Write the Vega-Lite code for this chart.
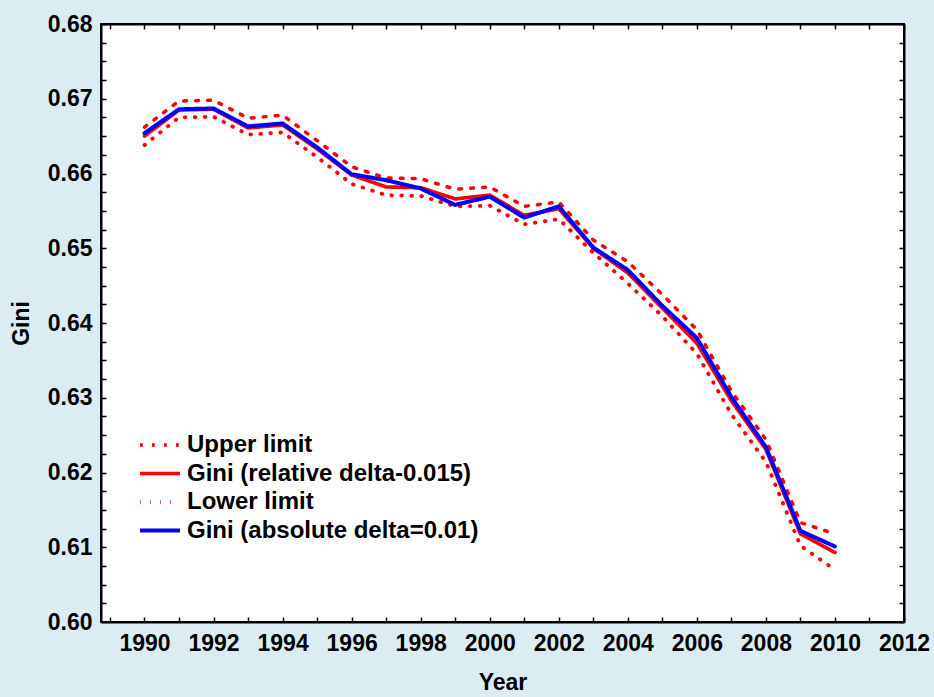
{
  "$schema": "https://vega.github.io/schema/vega-lite/v6.json",
  "width": 803,
  "height": 598,
  "autosize": {"type": "none"},
  "padding": {"left": 101, "top": 24, "right": 30, "bottom": 75},
  "background": "#DBEDF3",
  "config": {
    "view": {"fill": "white", "stroke": "black", "strokeWidth": 2},
    "font": "Liberation Sans",
    "axis": {"labelFont": "Liberation Sans", "titleFont": "Liberation Sans", "labelFontWeight": "bold", "titleFontWeight": "bold", "labelColor": "black", "titleColor": "black", "domainColor": "black", "tickColor": "black", "domainWidth": 2, "tickWidth": 1.5, "grid": false}
  },
  "data": {"values": [
    {"year": 1990, "series": "Upper limit", "value": 0.6662},
    {"year": 1991, "series": "Upper limit", "value": 0.6697},
    {"year": 1992, "series": "Upper limit", "value": 0.6698},
    {"year": 1993, "series": "Upper limit", "value": 0.6674},
    {"year": 1994, "series": "Upper limit", "value": 0.6678},
    {"year": 1995, "series": "Upper limit", "value": 0.6644},
    {"year": 1996, "series": "Upper limit", "value": 0.6609},
    {"year": 1997, "series": "Upper limit", "value": 0.6594},
    {"year": 1998, "series": "Upper limit", "value": 0.6593},
    {"year": 1999, "series": "Upper limit", "value": 0.6579},
    {"year": 2000, "series": "Upper limit", "value": 0.6582},
    {"year": 2001, "series": "Upper limit", "value": 0.6556},
    {"year": 2002, "series": "Upper limit", "value": 0.6562},
    {"year": 2003, "series": "Upper limit", "value": 0.6511},
    {"year": 2004, "series": "Upper limit", "value": 0.6482},
    {"year": 2005, "series": "Upper limit", "value": 0.6438},
    {"year": 2006, "series": "Upper limit", "value": 0.6391},
    {"year": 2007, "series": "Upper limit", "value": 0.6309},
    {"year": 2008, "series": "Upper limit", "value": 0.6244},
    {"year": 2009, "series": "Upper limit", "value": 0.6133},
    {"year": 2010, "series": "Upper limit", "value": 0.6118},
    {"year": 1990, "series": "Lower limit", "value": 0.6638},
    {"year": 1991, "series": "Lower limit", "value": 0.6675},
    {"year": 1992, "series": "Lower limit", "value": 0.6676},
    {"year": 1993, "series": "Lower limit", "value": 0.6652},
    {"year": 1994, "series": "Lower limit", "value": 0.6655},
    {"year": 1995, "series": "Lower limit", "value": 0.6622},
    {"year": 1996, "series": "Lower limit", "value": 0.6586},
    {"year": 1997, "series": "Lower limit", "value": 0.6571},
    {"year": 1998, "series": "Lower limit", "value": 0.6570},
    {"year": 1999, "series": "Lower limit", "value": 0.6556},
    {"year": 2000, "series": "Lower limit", "value": 0.6557},
    {"year": 2001, "series": "Lower limit", "value": 0.6532},
    {"year": 2002, "series": "Lower limit", "value": 0.6539},
    {"year": 2003, "series": "Lower limit", "value": 0.6494},
    {"year": 2004, "series": "Lower limit", "value": 0.6453},
    {"year": 2005, "series": "Lower limit", "value": 0.6409},
    {"year": 2006, "series": "Lower limit", "value": 0.6359},
    {"year": 2007, "series": "Lower limit", "value": 0.6278},
    {"year": 2008, "series": "Lower limit", "value": 0.6214},
    {"year": 2009, "series": "Lower limit", "value": 0.6102},
    {"year": 2010, "series": "Lower limit", "value": 0.6070},
    {"year": 1990, "series": "Gini (relative delta-0.015)", "value": 0.6650},
    {"year": 1991, "series": "Gini (relative delta-0.015)", "value": 0.6685},
    {"year": 1992, "series": "Gini (relative delta-0.015)", "value": 0.6686},
    {"year": 1993, "series": "Gini (relative delta-0.015)", "value": 0.6661},
    {"year": 1994, "series": "Gini (relative delta-0.015)", "value": 0.6665},
    {"year": 1995, "series": "Gini (relative delta-0.015)", "value": 0.6633},
    {"year": 1996, "series": "Gini (relative delta-0.015)", "value": 0.6598},
    {"year": 1997, "series": "Gini (relative delta-0.015)", "value": 0.6582},
    {"year": 1998, "series": "Gini (relative delta-0.015)", "value": 0.6581},
    {"year": 1999, "series": "Gini (relative delta-0.015)", "value": 0.6566},
    {"year": 2000, "series": "Gini (relative delta-0.015)", "value": 0.6571},
    {"year": 2001, "series": "Gini (relative delta-0.015)", "value": 0.6544},
    {"year": 2002, "series": "Gini (relative delta-0.015)", "value": 0.6553},
    {"year": 2003, "series": "Gini (relative delta-0.015)", "value": 0.6500},
    {"year": 2004, "series": "Gini (relative delta-0.015)", "value": 0.6467},
    {"year": 2005, "series": "Gini (relative delta-0.015)", "value": 0.6420},
    {"year": 2006, "series": "Gini (relative delta-0.015)", "value": 0.6373},
    {"year": 2007, "series": "Gini (relative delta-0.015)", "value": 0.6296},
    {"year": 2008, "series": "Gini (relative delta-0.015)", "value": 0.6231},
    {"year": 2009, "series": "Gini (relative delta-0.015)", "value": 0.6118},
    {"year": 2010, "series": "Gini (relative delta-0.015)", "value": 0.6093},
    {"year": 1990, "series": "Gini (absolute delta=0.01)", "value": 0.6654},
    {"year": 1991, "series": "Gini (absolute delta=0.01)", "value": 0.6686},
    {"year": 1992, "series": "Gini (absolute delta=0.01)", "value": 0.6687},
    {"year": 1993, "series": "Gini (absolute delta=0.01)", "value": 0.6663},
    {"year": 1994, "series": "Gini (absolute delta=0.01)", "value": 0.6667},
    {"year": 1995, "series": "Gini (absolute delta=0.01)", "value": 0.6635},
    {"year": 1996, "series": "Gini (absolute delta=0.01)", "value": 0.6599},
    {"year": 1997, "series": "Gini (absolute delta=0.01)", "value": 0.6591},
    {"year": 1998, "series": "Gini (absolute delta=0.01)", "value": 0.6580},
    {"year": 1999, "series": "Gini (absolute delta=0.01)", "value": 0.6558},
    {"year": 2000, "series": "Gini (absolute delta=0.01)", "value": 0.6569},
    {"year": 2001, "series": "Gini (absolute delta=0.01)", "value": 0.6541},
    {"year": 2002, "series": "Gini (absolute delta=0.01)", "value": 0.6556},
    {"year": 2003, "series": "Gini (absolute delta=0.01)", "value": 0.6501},
    {"year": 2004, "series": "Gini (absolute delta=0.01)", "value": 0.6471},
    {"year": 2005, "series": "Gini (absolute delta=0.01)", "value": 0.6423},
    {"year": 2006, "series": "Gini (absolute delta=0.01)", "value": 0.6380},
    {"year": 2007, "series": "Gini (absolute delta=0.01)", "value": 0.6301},
    {"year": 2008, "series": "Gini (absolute delta=0.01)", "value": 0.6234},
    {"year": 2009, "series": "Gini (absolute delta=0.01)", "value": 0.6122},
    {"year": 2010, "series": "Gini (absolute delta=0.01)", "value": 0.6101}
  ]},
  "layer": [
    {
      "mark": {"type": "line", "strokeCap": "round", "clip": true},
      "encoding": {
        "x": {"field": "year", "type": "quantitative",
          "scale": {"domain": [1988.74, 2012], "nice": false, "zero": false},
          "axis": {"orient": "bottom", "title": "Year", "titleFontSize": 23, "titlePadding": 16,
            "values": [1989,1990,1991,1992,1993,1994,1995,1996,1997,1998,1999,2000,2001,2002,2003,2004,2005,2006,2007,2008,2009,2010,2011,2012],
            "labelExpr": "datum.value % 2 == 0 ? format(datum.value, 'd') : ''",
            "labelFontSize": 23, "labelPadding": 15, "tickSize": -5, "labelFlush": false, "labelOverlap": false}},
        "y": {"field": "value", "type": "quantitative",
          "scale": {"domain": [0.60, 0.68], "nice": false, "zero": false},
          "axis": {"orient": "left", "title": "Gini", "titleFontSize": 23, "titlePadding": 14,
            "values": [0.6,0.6025,0.605,0.6075,0.61,0.6125,0.615,0.6175,0.62,0.6225,0.625,0.6275,0.63,0.6325,0.635,0.6375,0.64,0.6425,0.645,0.6475,0.65,0.6525,0.655,0.6575,0.66,0.6625,0.665,0.6675,0.67,0.6725,0.675,0.6775,0.68],
            "labelExpr": "abs(datum.value * 100 - round(datum.value * 100)) < 0.01 ? format(datum.value, '.2f') : ''",
            "labelFontSize": 23, "labelPadding": 14, "tickSize": -5, "labelFlush": false, "labelOverlap": false}},
        "color": {"field": "series", "type": "nominal",
          "scale": {"domain": ["Upper limit", "Gini (relative delta-0.015)", "Lower limit", "Gini (absolute delta=0.01)"], "range": ["#FF0000", "#FF0000", "#FF0000", "#0000FF"]},
          "legend": {"title": null, "orient": "none", "legendX": 47, "legendY": 409,
            "symbolType": "M-2,0H2", "symbolSize": 400, "symbolStrokeWidth": 3.5,
            "labelFont": "Liberation Sans", "labelFontWeight": "bold", "labelFontSize": 24, "labelColor": "black",
            "labelOffset": 15, "rowPadding": 4.5, "labelLimit": 500}},
        "strokeDash": {"field": "series", "type": "nominal",
          "scale": {"domain": ["Upper limit", "Gini (relative delta-0.015)", "Lower limit", "Gini (absolute delta=0.01)"], "range": [[2.8, 9.2], [1, 0], [0.6, 9.4], [1, 0]]},
          "legend": null},
        "strokeWidth": {"field": "series", "type": "nominal",
          "scale": {"domain": ["Upper limit", "Gini (relative delta-0.015)", "Lower limit", "Gini (absolute delta=0.01)"], "range": [3.5, 4, 2.8, 4]},
          "legend": null}
      }
    },
    {
      "mark": {"type": "line", "opacity": 0},
      "encoding": {
        "x": {"field": "year", "type": "quantitative",
          "scale": {"domain": [1988.74, 2012], "nice": false, "zero": false},
          "axis": {"orient": "top", "title": null, "labels": false, "tickSize": -5,
            "values": [1989,1990,1991,1992,1993,1994,1995,1996,1997,1998,1999,2000,2001,2002,2003,2004,2005,2006,2007,2008,2009,2010,2011,2012]}},
        "y": {"field": "value", "type": "quantitative",
          "scale": {"domain": [0.60, 0.68], "nice": false, "zero": false},
          "axis": {"orient": "right", "title": null, "labels": false, "tickSize": -5,
            "values": [0.6,0.6025,0.605,0.6075,0.61,0.6125,0.615,0.6175,0.62,0.6225,0.625,0.6275,0.63,0.6325,0.635,0.6375,0.64,0.6425,0.645,0.6475,0.65,0.6525,0.655,0.6575,0.66,0.6625,0.665,0.6675,0.67,0.6725,0.675,0.6775,0.68]}},
        "detail": {"field": "series", "type": "nominal"}
      }
    }
  ],
  "resolve": {"axis": {"x": "independent", "y": "independent"}}
}
